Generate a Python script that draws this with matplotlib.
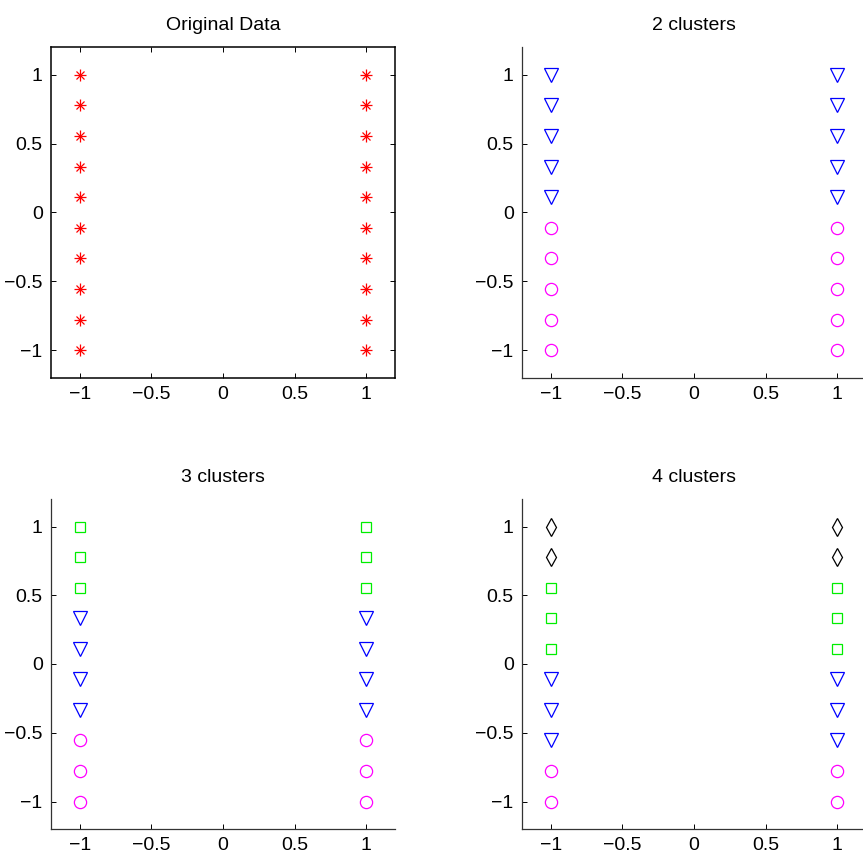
import matplotlib
matplotlib.use("Agg")
import matplotlib.pyplot as plt

plt.rcParams['font.family'] = ['Liberation Sans', 'DejaVu Sans']

# data points: two vertical columns of 10 points
x_pts = [-1, -1, -1, -1, -1, -1, -1, -1, -1, -1,
         1, 1, 1, 1, 1, 1, 1, 1, 1, 1]
y_pts = [1, 0.7778, 0.5556, 0.3333, 0.1111, -0.1111, -0.3333, -0.5556, -0.7778, -1,
         1, 0.7778, 0.5556, 0.3333, 0.1111, -0.1111, -0.3333, -0.5556, -0.7778, -1]

# cluster labels per point (same for both columns)
labels_2 = [1, 1, 1, 1, 1, 0, 0, 0, 0, 0] * 2
labels_3 = [2, 2, 2, 1, 1, 1, 1, 0, 0, 0] * 2
labels_4 = [3, 3, 2, 2, 2, 1, 1, 1, 0, 0] * 2

titles = ['Original Data', '2 clusters', '3 clusters', '4 clusters']
ticks = [-1, -0.5, 0, 0.5, 1]
tick_labels = ['\u22121', '\u22120.5', '0', '0.5', '1']

# marker style per cluster id: (marker, color, size)
styles = {
    0: ('o', '#ff00ff', 8.8),
    1: ('v', '#0000ff', 10.0),
    2: ('s', '#00ee00', 6.8),
    3: ('d', '#000000', 8.8),
}

W = 863
fig = plt.figure(figsize=(W / 100, W / 100), dpi=100)

def px_axes(left, top, right, bottom):
    return fig.add_axes([left / W, 1 - bottom / W, (right - left) / W, (bottom - top) / W])

axs = [
    px_axes(51, 47, 395, 378),
    px_axes(522, 47, 866, 378),
    px_axes(51, 499, 395, 829),
    px_axes(522, 499, 866, 829),
]

for i, ax in enumerate(axs):
    ax.set_xlim(-1.2, 1.2)
    ax.set_ylim(-1.2, 1.2)
    ax.set_xticks(ticks)
    ax.set_xticklabels(tick_labels)
    ax.set_yticks(ticks)
    ax.set_yticklabels(tick_labels)
    ax.set_title(titles[i], fontsize=14, pad=12)
    ax.tick_params(direction='in', length=3.5, width=0.7, labelsize=14, pad=6)
    if i == 0:
        for s in ax.spines.values():
            s.set_linewidth(1.1)
            s.set_color('black')
        ax.tick_params(top=True, right=True)
    else:
        ax.spines['top'].set_visible(False)
        ax.spines['right'].set_visible(False)
        for s in ('left', 'bottom'):
            ax.spines[s].set_linewidth(0.9)
            ax.spines[s].set_color('#333333')

# original data: red asterisks
ax = axs[0]
ax.plot(x_pts, y_pts, linestyle='none', marker='+', color='red', markersize=8.5, markeredgewidth=0.9)
ax.plot(x_pts, y_pts, linestyle='none', marker='x', color='red', markersize=6.0, markeredgewidth=0.9)

for ax, labels in zip(axs[1:], [labels_2, labels_3, labels_4]):
    for c in sorted(set(labels)):
        xs = [x for x, l in zip(x_pts, labels) if l == c]
        ys = [y for y, l in zip(y_pts, labels) if l == c]
        m, col, ms = styles[c]
        ax.plot(xs, ys, linestyle='none', marker=m, markersize=ms,
                markerfacecolor='none', markeredgecolor=col, markeredgewidth=0.9)

fig.savefig('out.png', dpi=100)
